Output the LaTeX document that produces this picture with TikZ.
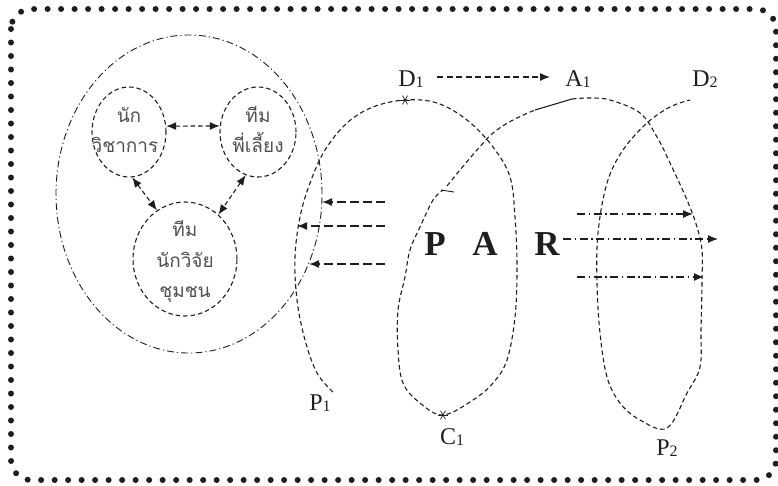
\documentclass[tikz,border=0pt]{standalone}
\usepackage{fontspec}
\setmainfont{Liberation Serif}
\newfontfamily\thaifont[Script=Thai]{Loma}
\usetikzlibrary{arrows.meta,shapes.geometric}
\newcommand{\mysub}[2]{#1\raisebox{-1.5pt}{\fontsize{16}{16}\selectfont #2}}
\definecolor{ink}{HTML}{1E1E1E}
\definecolor{thaigray}{HTML}{505050}
\begin{document}
\begin{tikzpicture}[x=1pt,y=-1pt,
  dsh/.style={draw=ink, line width=1.1pt, dash pattern=on 4.5pt off 3pt},
  dshdot/.style={draw=ink, line width=0.9pt, dash pattern=on 7pt off 3pt on 1.2pt off 3pt},
  circ/.style={ellipse, dsh, inner sep=0pt},
  tip/.style={-{Latex[length=10pt,width=8pt]}},
  ttip/.style={{Latex[length=10pt,width=8pt]}-{Latex[length=10pt,width=8pt]}},
  thai/.style={font=\thaifont\fontsize{19}{30}\selectfont, text=thaigray, anchor=base, inner sep=0pt},
  lbl/.style={font=\fontsize{24}{28}\selectfont, text=ink, anchor=base, inner sep=0pt},
  big/.style={font=\bfseries\fontsize{35}{40}\selectfont, text=ink, anchor=base, inner sep=0pt},
  longdash/.style={draw=ink, line width=1.4pt, dash pattern=on 9pt off 4pt},
  ddarrow/.style={draw=ink, line width=1.2pt, dash pattern=on 8pt off 3.5pt on 1.5pt off 3.5pt},
]
\useasboundingbox (0,0) rectangle (778,485);
% dotted frame
\draw[ink, line width=6pt, line cap=round, dash pattern=on 0pt off 13.5pt, rounded corners=20pt]
  (11,9) rectangle (776,480);

% outer dash-dot ellipse
\draw[dshdot] (189,194) ellipse [x radius=133pt, y radius=159pt];

% three circles
\node[circ, minimum width=74pt, minimum height=90pt] (c1) at (129,132) {};
\node[circ, minimum width=76pt, minimum height=90pt] (c2) at (258,132) {};
\node[circ, minimum width=104pt, minimum height=114pt] (c3) at (185,259) {};

\node[thai] (t1a) at (129,122) {นัก};
\node[thai] (t1b) at (125,152) {วิชาการ};
\node[thai] (t2a) at (258,122) {ทีม};
\node[thai] (t2b) at (258,152) {พี่เลี้ยง};
\node[thai] (t3a) at (185,236) {ทีม};
\node[thai] (t3b) at (185,267) {นักวิจัย};
\node[thai] (t3c) at (185,297) {ชุมชน};

\draw[dsh, ttip] (c1.9) -- (c2.171);
\draw[dsh, ttip] (c1.-86) -- (c3.120);
\draw[dsh, ttip] (c2.-106) -- (c3.53);

% spiral
\coordinate (s1) at (405,100);
\coordinate (s2) at (443,415);
\draw[dsh] plot[smooth, tension=0.6] coordinates {
 (333,392) (317,373) (305,340) (297,300) (295,257) (300,217) (310,183) (325,150)
 (347,123) (373,107) (405,100) (437,103) (467,120) (493,147) (510,177) (515,217)
 (517,267) (515,317) (507,360) (493,383) (473,400) (443,415) (420,403) (403,383)
 (398,350) (398,310) (405,277) (410,250) (420,227) (433,200) (443,190)};
\draw[ink, line width=0.9pt] (441,190) -- (454,192);
\draw[dsh] plot[smooth, tension=0.6] coordinates {
 (447,186) (460,170) (477,150) (493,133) (513,120) (535,110)};
\coordinate (k1) at (535,110);
\coordinate (k2) at (572,99);
\draw[ink, line width=1.1pt] (k1) -- (k2);
\draw[dsh] plot[smooth, tension=0.6] coordinates {
 (572,99) (590,98) (610,100) (640,113) (657,137) (670,163) (687,200) (697,227)
 (702,250) (702,283) (701,330) (700,367) (687,393) (667,428) (640,420) (620,403)
 (607,377) (600,333) (597,283) (598,233) (607,183) (623,150) (647,123) (670,107) (690,100)};
\foreach \s in {s1,s2}{
  \foreach \a in {0,60,120}{
    \draw[ink, line width=0.7pt] ([shift={(\a:5pt)}]\s) -- ([shift={(\a+180:5pt)}]\s);
  }
}

% labels
\node[lbl] (d1) at (411,86) {\mysub{D}{1}};
\node[lbl] (a1) at (578,86) {\mysub{A}{1}};
\node[lbl] (d2) at (705,86) {\mysub{D}{2}};
\node[lbl] (p1) at (320,410) {\mysub{P}{1}};
\node[lbl] (cc1) at (452,444) {\mysub{C}{1}};
\node[lbl] (p2) at (667,455) {\mysub{P}{2}};
\draw[dsh, tip, line width=1.2pt, dash pattern=on 6pt off 3.5pt] (437,77) -- (550,77);

% PAR
\node[big] (pp) at (435,255) {P};
\node[big] (aa) at (485,255) {A};
\node[big] (rr) at (547,255) {R};

% left arrows
\coordinate (l1s) at (385,202); \coordinate (l1e) at (322,202);
\coordinate (l2s) at (385,226); \coordinate (l2e) at (297,226);
\coordinate (l3s) at (385,264); \coordinate (l3e) at (309,264);
\foreach \i in {1,2,3}{\draw[longdash, tip] (l\i s) -- (l\i e);}

% right arrows
\coordinate (r1s) at (577,214); \coordinate (r1e) at (693,214);
\coordinate (r2s) at (563,239); \coordinate (r2e) at (718,239);
\coordinate (r3s) at (577,277); \coordinate (r3e) at (704,277);
\foreach \i in {1,2,3}{\draw[ddarrow, tip] (r\i s) -- (r\i e);}
\end{tikzpicture}
\end{document}
